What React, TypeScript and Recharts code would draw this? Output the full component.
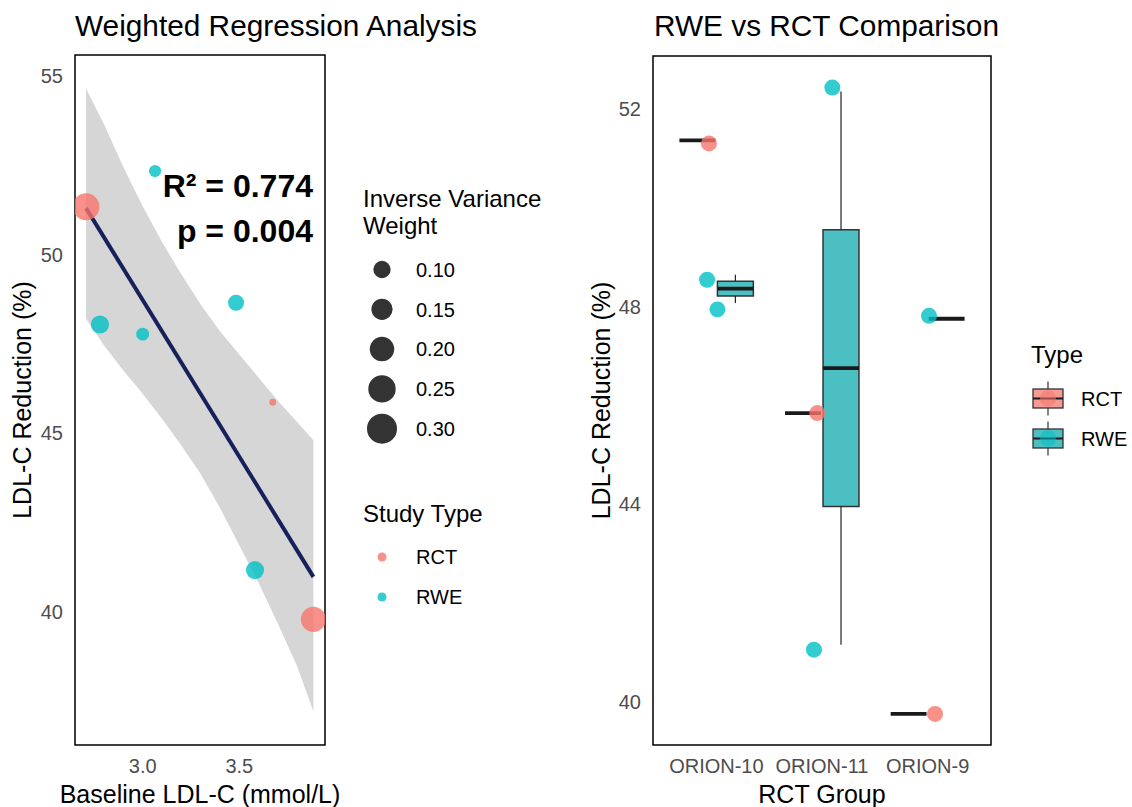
import React from 'react';
import {
  ComposedChart,
  Scatter,
  Line,
  Area,
  XAxis,
  YAxis,
  ZAxis,
  ReferenceArea,
  ReferenceLine,
  Label,
} from 'recharts';

// ---------- Left panel data (weighted regression) ----------
const studyType = ['RCT', 'RWE', 'RWE', 'RWE', 'RWE', 'RCT', 'RWE', 'RCT'];
const baselineLDL = [2.707, 3.064, 2.779, 3.0, 3.483, 3.673, 3.581, 3.883];
const ldlReduction = [51.34, 52.34, 48.04, 47.77, 48.65, 45.86, 41.16, 39.78];
const ivWeight = [0.24, 0.05, 0.11, 0.055, 0.085, 0.016, 0.11, 0.21];

const fitX = [2.707, 3.883];
const fitY = [51.3, 40.97];

const bandX = [2.707, 2.8, 2.9, 3.0, 3.1, 3.2, 3.3, 3.4, 3.5, 3.6, 3.7, 3.8, 3.883];
const bandLow = [48.2, 47.45, 46.75, 46.1, 45.4, 44.65, 43.85, 42.9, 41.85, 40.8, 39.65, 38.45, 37.2];
const bandHigh = [54.65, 53.65, 52.45, 51.35, 50.35, 49.45, 48.6, 47.85, 47.2, 46.55, 45.9, 45.3, 44.8];

const leftXTicks = [3.0, 3.5];
const leftYTicks = [40, 45, 50, 55];
const sizeLegendWeights = [0.1, 0.15, 0.2, 0.25, 0.3];
const studyTypes = ['RCT', 'RWE'];

// ---------- Right panel data (RWE vs RCT) ----------
const rctGroups = ['ORION-10', 'ORION-11', 'ORION-9'];
const ptGroupPos = [0.93, 0.912, 1.01, 2.098, 1.955, 1.924, 3.013, 3.07]; // jittered positions
const ptType = ['RCT', 'RWE', 'RWE', 'RWE', 'RCT', 'RWE', 'RWE', 'RCT'];
const ptValue = [51.3, 48.54, 47.94, 52.43, 45.84, 41.05, 47.81, 39.75];

const boxType = ['RCT', 'RCT', 'RCT', 'RWE', 'RWE', 'RWE'];
const boxGroup = [1, 2, 3, 1, 2, 3];
const boxMin = [51.36, 45.84, 39.75, 48.07, 41.15, 47.75];
const boxQ1 = [51.36, 45.84, 39.75, 48.21, 43.95, 47.75];
const boxMedian = [51.36, 45.84, 39.75, 48.36, 46.75, 47.75];
const boxQ3 = [51.36, 45.84, 39.75, 48.51, 49.55, 47.75];
const boxMax = [51.36, 45.84, 39.75, 48.64, 52.35, 47.75];
const rightYTicks = [40, 44, 48, 52];

// ---------- styling ----------
const COLORS: Record<string, string> = { RCT: '#F8766D', RWE: '#00BFC4' };
const BOX_FILL: Record<string, string> = { RCT: '#F59A94', RWE: '#4CBFC2' };
const FONT = '"Liberation Sans", Arial, Helvetica, sans-serif';
const TICK = { fill: '#4d4d4d', fontSize: 20 };
const Z_DOMAIN_MAX = 0.3;
const Z_AREA_MAX = 707;
const POINT_AREA = 201;
const DODGE = 0.18;
const HALF_BOX = 0.17;

const leftXDomain: [number, number] = [2.65, 3.943];
const leftYDomain: [number, number] = [36.26, 55.59];
const rightXDomain: [number, number] = [0.4, 3.6];
const rightYDomain: [number, number] = [39.12, 53.07];

const leftPoints = baselineLDL.map((x, i) => ({ x, y: ldlReduction[i], w: ivWeight[i], type: studyType[i] }));
const bandData = bandX.map((x, i) => ({ x, range: [bandLow[i], bandHigh[i]] }));
const fitData = fitX.map((x, i) => ({ x, y: fitY[i] }));
const rightPoints = ptGroupPos.map((x, i) => ({ x, y: ptValue[i], type: ptType[i] }));
const boxes = boxType.map((t, i) => ({
  type: t,
  center: boxGroup[i] + (t === 'RCT' ? -DODGE : DODGE),
  min: boxMin[i],
  q1: boxQ1[i],
  med: boxMedian[i],
  q3: boxQ3[i],
  max: boxMax[i],
}));

const legendRadius = (w: number) => Math.sqrt(((w / Z_DOMAIN_MAX) * Z_AREA_MAX) / Math.PI);

function LeftChart() {
  return (
    <ComposedChart width={340} height={807} margin={{ top: 55, right: 15, bottom: 0, left: 0 }}>
      <XAxis
        type="number"
        dataKey="x"
        domain={leftXDomain}
        ticks={leftXTicks}
        tickFormatter={(v: number) => v.toFixed(1)}
        allowDataOverflow
        height={62}
        tickLine={false}
        axisLine={false}
        tickSize={0}
        tickMargin={14}
        tick={TICK}
      >
        <Label value="Baseline LDL-C (mmol/L)" position="insideBottom" offset={4} style={{ fontSize: 25, fill: '#000' }} />
      </XAxis>
      <YAxis
        type="number"
        dataKey="y"
        domain={leftYDomain}
        ticks={leftYTicks}
        allowDataOverflow
        width={75}
        tickLine={false}
        axisLine={false}
        tickSize={0}
        tickMargin={12}
        tick={TICK}
      >
        <Label
          value="LDL-C Reduction (%)"
          angle={-90}
          position="insideLeft"
          offset={22}
          style={{ textAnchor: 'middle', fontSize: 25, fill: '#000' }}
        />
      </YAxis>
      <ZAxis type="number" dataKey="w" domain={[0, Z_DOMAIN_MAX]} range={[0, Z_AREA_MAX]} />
      <Area
        data={bandData}
        dataKey="range"
        type="linear"
        fill="#999999"
        fillOpacity={0.4}
        stroke="none"
        isAnimationActive={false}
      />
      <Line
        data={fitData}
        dataKey="y"
        type="linear"
        stroke="#16215C"
        strokeWidth={4}
        dot={false}
        isAnimationActive={false}
      />
      {studyTypes.map((t) => (
        <Scatter
          key={t}
          data={leftPoints.filter((p) => p.type === t)}
          fill={COLORS[t]}
          fillOpacity={0.8}
          isAnimationActive={false}
        />
      ))}
      <ReferenceArea
        x1={leftXDomain[0]}
        x2={leftXDomain[1]}
        y1={leftYDomain[0]}
        y2={leftYDomain[1]}
        fill="none"
        fillOpacity={0}
        stroke="#000"
        strokeWidth={1.5}
        ifOverflow="visible"
      />
    </ComposedChart>
  );
}

function RightChart() {
  return (
    <ComposedChart width={420} height={807} margin={{ top: 56, right: 9, bottom: 0, left: 0 }}>
      <XAxis
        type="number"
        dataKey="x"
        domain={rightXDomain}
        ticks={[1, 2, 3]}
        tickFormatter={(v: number) => rctGroups[v - 1]}
        allowDataOverflow
        height={62}
        tickLine={false}
        axisLine={false}
        tickSize={0}
        tickMargin={14}
        tick={TICK}
      >
        <Label value="RCT Group" position="insideBottom" offset={4} style={{ fontSize: 25, fill: '#000' }} />
      </XAxis>
      <YAxis
        type="number"
        dataKey="y"
        domain={rightYDomain}
        ticks={rightYTicks}
        allowDataOverflow
        width={73}
        tickLine={false}
        axisLine={false}
        tickSize={0}
        tickMargin={12}
        tick={TICK}
      >
        <Label
          value="LDL-C Reduction (%)"
          angle={-90}
          position="insideLeft"
          offset={21}
          style={{ textAnchor: 'middle', fontSize: 25, fill: '#000' }}
        />
      </YAxis>
      <ZAxis type="number" dataKey="y" range={[POINT_AREA, POINT_AREA]} />
      {boxes.map((b, i) => (
        <ReferenceLine
          key={`wu${i}`}
          segment={[
            { x: b.center, y: b.q3 },
            { x: b.center, y: b.max },
          ]}
          stroke="#222"
          strokeWidth={1.2}
        />
      ))}
      {boxes.map((b, i) => (
        <ReferenceLine
          key={`wl${i}`}
          segment={[
            { x: b.center, y: b.min },
            { x: b.center, y: b.q1 },
          ]}
          stroke="#222"
          strokeWidth={1.2}
        />
      ))}
      {boxes.map((b, i) => (
        <ReferenceArea
          key={`bx${i}`}
          x1={b.center - HALF_BOX}
          x2={b.center + HALF_BOX}
          y1={b.q1}
          y2={b.q3}
          fill={BOX_FILL[b.type]}
          fillOpacity={1}
          stroke="#333"
          strokeWidth={1.5}
        />
      ))}
      {boxes.map((b, i) => (
        <ReferenceLine
          key={`md${i}`}
          segment={[
            { x: b.center - HALF_BOX, y: b.med },
            { x: b.center + HALF_BOX, y: b.med },
          ]}
          stroke="#1a1a1a"
          strokeWidth={3.8}
        />
      ))}
      {studyTypes.map((t) => (
        <Scatter
          key={t}
          data={rightPoints.filter((p) => p.type === t)}
          fill={COLORS[t]}
          fillOpacity={0.8}
          isAnimationActive={false}
        />
      ))}
      <ReferenceArea
        x1={rightXDomain[0]}
        x2={rightXDomain[1]}
        y1={rightYDomain[0]}
        y2={rightYDomain[1]}
        fill="none"
        fillOpacity={0}
        stroke="#000"
        strokeWidth={1.5}
        ifOverflow="visible"
      />
    </ComposedChart>
  );
}

function Overlay() {
  return (
    <svg
      width={1132}
      height={807}
      style={{ position: 'absolute', left: 0, top: 0, pointerEvents: 'none', fontFamily: FONT }}
    >
      {/* titles */}
      <text x={75} y={36} fontSize={29.8} fill="#000">
        Weighted Regression Analysis
      </text>
      <text x={654} y={36} fontSize={29.8} fill="#000">
        RWE vs RCT Comparison
      </text>

      {/* annotation */}
      <text x={313} y={197} fontSize={32} fontWeight="bold" textAnchor="end" fill="#000">
        R² = 0.774
      </text>
      <text x={313} y={242} fontSize={32} fontWeight="bold" textAnchor="end" fill="#000">
        p = 0.004
      </text>

      {/* left legend: sizes */}
      <text x={363} y={207} fontSize={24} fill="#000">
        Inverse Variance
      </text>
      <text x={363} y={234} fontSize={24} fill="#000">
        Weight
      </text>
      {sizeLegendWeights.map((w, i) => (
        <g key={w}>
          <circle cx={382} cy={269.5 + i * 39.8} r={legendRadius(w)} fill="#333" />
          <text x={416} y={269.5 + i * 39.8} dy="0.36em" fontSize={20} fill="#000">
            {w.toFixed(2)}
          </text>
        </g>
      ))}

      {/* left legend: study type */}
      <text x={363} y={522} fontSize={24} fill="#000">
        Study Type
      </text>
      {studyTypes.map((t, i) => (
        <g key={t}>
          <circle cx={382} cy={557 + i * 40} r={4.5} fill={COLORS[t]} fillOpacity={0.8} />
          <text x={416} y={557 + i * 40} dy="0.36em" fontSize={20} fill="#000">
            {t}
          </text>
        </g>
      ))}

      {/* right legend: type */}
      <text x={1031} y={363} fontSize={24} fill="#000">
        Type
      </text>
      {studyTypes.map((t, i) => {
        const cy = 398.5 + i * 40;
        return (
          <g key={t}>
            <line x1={1048} x2={1048} y1={cy - 17} y2={cy + 17} stroke="#333" strokeWidth={1.2} />
            <rect x={1033} y={cy - 9.5} width={30} height={19} fill={BOX_FILL[t]} stroke="#333" strokeWidth={1.3} />
            <line x1={1033} x2={1063} y1={cy} y2={cy} stroke="#1a1a1a" strokeWidth={2} />
            <circle cx={1048} cy={cy} r={8} fill={COLORS[t]} fillOpacity={0.55} />
            <text x={1081} y={cy} dy="0.36em" fontSize={20} fill="#000">
              {t}
            </text>
          </g>
        );
      })}
    </svg>
  );
}

export default function App() {
  return (
    <div
      style={{
        position: 'absolute',
        left: 0,
        top: 0,
        width: 1132,
        height: 807,
        background: '#fff',
        fontFamily: FONT,
        overflow: 'hidden',
      }}
    >
      <div style={{ position: 'absolute', left: 0, top: 0 }}>
        <LeftChart />
      </div>
      <div style={{ position: 'absolute', left: 580, top: 0 }}>
        <RightChart />
      </div>
      <Overlay />
    </div>
  );
}
